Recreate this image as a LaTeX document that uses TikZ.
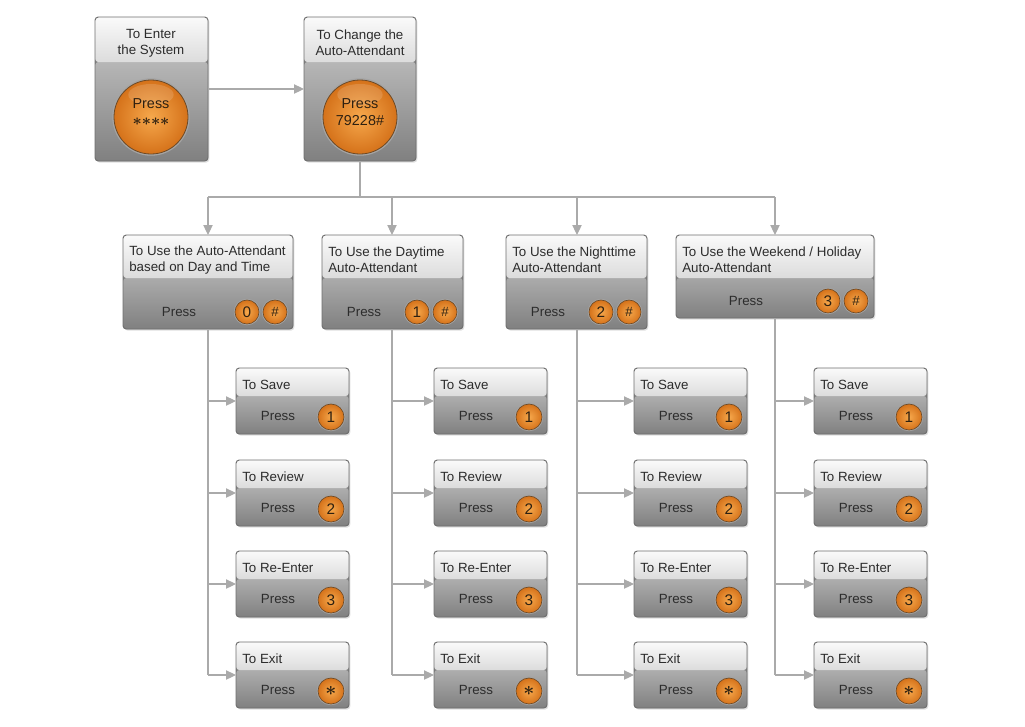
\documentclass[tikz,border=0pt]{standalone}
\usepackage{fontspec}
\setmainfont{Liberation Sans}
\usetikzlibrary{arrows.meta,shadows,calc}
\definecolor{txtc}{HTML}{2C2C2C}
\definecolor{boxline}{HTML}{6F6F6F}
\definecolor{bodytop}{HTML}{CFCFCF}
\definecolor{bodybot}{HTML}{808080}
\definecolor{hdrtop}{HTML}{FAFAFA}
\definecolor{hdrbot}{HTML}{DCDCDC}
\definecolor{btnin}{HTML}{F6A84C}
\definecolor{btnout}{HTML}{D5721A}
\definecolor{btnline}{HTML}{6E4A26}
\definecolor{ringc}{HTML}{A4A4A4}
\definecolor{btntxt}{HTML}{2E2010}
\definecolor{connc}{HTML}{AAAAAA}
\tikzset{
  box/.style={draw=boxline, line width=0.7pt, rounded corners=2.5pt, inner sep=0pt, outer sep=0pt,
    anchor=north west, fill=bodybot,
    drop shadow={opacity=0.25, shadow xshift=1pt, shadow yshift=-1.2pt},
    path picture={
      \shade[top color=bodytop,bottom color=bodybot]
        ([yshift=-#1*0.75pt]path picture bounding box.north west) rectangle (path picture bounding box.south east);
      \shade[top color=hdrtop,bottom color=hdrbot]
        (path picture bounding box.north west) rectangle ([yshift=-#1*0.75pt]path picture bounding box.north east);
    }},
  txt/.style={text=txtc, font=\fontsize{10}{12}\selectfont, inner sep=0pt, align=left},
  ctxt/.style={text=txtc, font=\fontsize{10}{12}\selectfont, inner sep=0pt, align=center},
  btn/.style={circle, inner sep=0pt, minimum size=#1*0.75pt, draw=btnline, line width=0.5pt,
    inner color=btnin, outer color=btnout, preaction={draw=ringc, line width=1.8pt},
    text=btntxt, font=\fontsize{11.5}{12}\selectfont},
  bigbtn/.style={btn=#1, line width=0.6pt, preaction={draw=ringc, line width=2.6pt},
    path picture={\fill[white,opacity=0.14] ([yshift=-11pt]path picture bounding box.north) ellipse (17pt and 8pt);}},
  bigtxt/.style={text=btntxt, font=\fontsize{10.8}{12.8}\selectfont, inner sep=0pt, align=center},
  conn/.style={draw=connc, line width=0.8pt},
  arr/.style={conn, -{Triangle[length=7.5pt,width=7pt]}},
}
\newcommand\mkbox[6]{\node[box=#6, minimum width={(#4-#2)*0.75pt}, minimum height={(#5-#3)*0.75pt}] (#1) at (#2,#3) {};}
\newcommand\bigast{{\fontsize{14}{14}\selectfont\boldmath$\ast$}}
\newcommand\hash{{\fontsize{10}{12}\selectfont\#}}
\begin{document}
\begin{tikzpicture}[x=0.75pt,y=-0.75pt]
\useasboundingbox[fill=white] (0,0) rectangle (1025,726);

% top boxes
\mkbox{t1}{95}{17}{208}{161}{45}
\mkbox{t2}{304}{17}{416}{161}{45}
\node[ctxt] (t1t) at (151,43) {To Enter\\the System};
\node[ctxt] (t2t) at (360,43) {To Change the\\Auto-Attendant};
\node[bigbtn=74] (t1b) at (151,117) {};
\node[bigbtn=74] (t2b) at (360,117) {};
\node[bigtxt] (t1bt) at (151,112.5) {Press\\{\fontsize{12.5}{12.5}\selectfont\boldmath${\ast}{\ast}{\ast}{\ast}$}};
\node[bigtxt] (t2bt) at (360,112.5) {Press\\79228\#};

\draw[arr] (t1.east) -- (t2.west |- t1.east);

% level 2 boxes
\mkbox{L1}{123}{235}{293}{329}{43}
\mkbox{L2}{322}{235}{463}{329}{43}
\mkbox{L3}{506}{235}{647}{329}{43}
\mkbox{L4}{676}{235}{874}{318}{43}

\node[txt, anchor=west] (L1t) at (129,260) {To Use the Auto-Attendant\\based on Day and Time};
\node[txt, anchor=west] (L2t) at (328,260) {To Use the Daytime\\Auto-Attendant};
\node[txt, anchor=west] (L3t) at (512,260) {To Use the Nighttime\\Auto-Attendant};
\node[txt, anchor=west] (L4t) at (682,260) {To Use the Weekend / Holiday\\Auto-Attendant};

\node[ctxt] (L1p) at (179,312) {Press};
\node[ctxt] (L2p) at (364,312) {Press};
\node[ctxt] (L3p) at (548,312) {Press};
\node[ctxt] (L4p) at (746,301) {Press};

\node[btn=24] (L1a) at (247,312) {0};
\node[btn=24] (L1b) at (275,312) {\hash};
\node[btn=24] (L2a) at (417,312) {1};
\node[btn=24] (L2b) at (445,312) {\hash};
\node[btn=24] (L3a) at (601,312) {2};
\node[btn=24] (L3b) at (629,312) {\hash};
\node[btn=24] (L4a) at (828,301) {3};
\node[btn=24] (L4b) at (856,301) {\hash};

% distribution
\coordinate (j0) at (360,197);
\coordinate (j1) at (208,197);
\coordinate (j2) at (392,197);
\coordinate (j3) at (577,197);
\coordinate (j4) at (775,197);
\draw[conn] (t2.south) -- (j0);
\draw[conn] (j1) -- (j4);
\foreach \c in {1,2,3,4} {\draw[arr] (j\c) -- (j\c |- L\c.north);}

% leaves
\foreach \c/\lx/\tx in {1/236/208, 2/434/392, 3/634/577, 4/814/775} {
  \foreach \r/\ty/\lab/\key in {1/368/To Save/1, 2/460/To Review/2, 3/551/To Re-Enter/3, 4/642/To Exit/\bigast} {
    \mkbox{s\c\r}{\lx}{\ty}{\lx+113}{\ty+66}{28}
    \node[txt, anchor=west] (h\c\r) at (\lx+6,\ty+17) {\lab};
    \node[ctxt] (p\c\r) at (\lx+42,\ty+48) {Press};
    \node[btn=26] (b\c\r) at (\lx+95,\ty+49) {\key};
    \coordinate (k\c\r) at (\tx,\ty+33);
    \draw[arr] (k\c\r) -- (s\c\r.west);
  }
  \draw[conn] (k\c4 |- L\c.south) -- (k\c4);
}
\end{tikzpicture}
\end{document}
